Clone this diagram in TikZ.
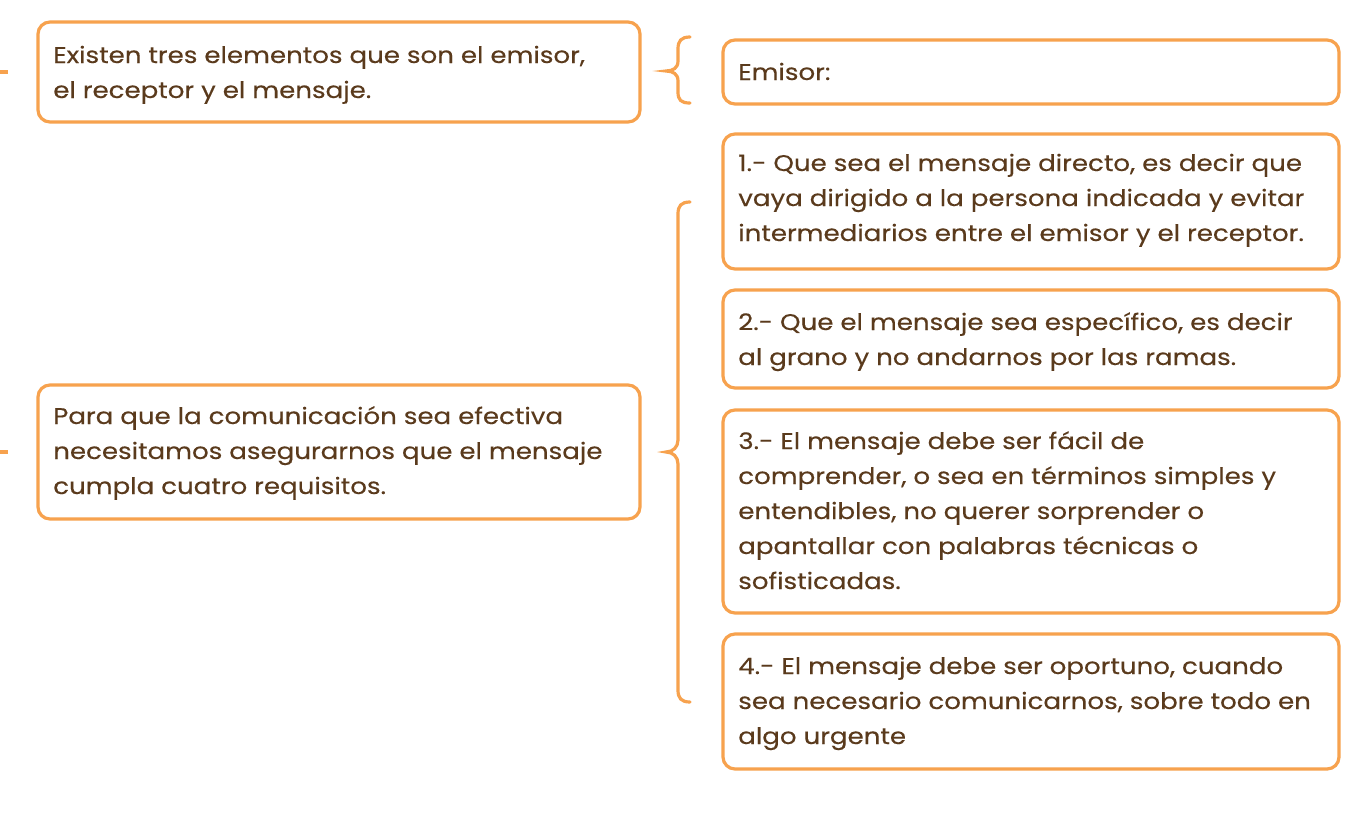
\documentclass[tikz,border=0pt]{standalone}
\usepackage{fontspec}
\setmainfont{Poppins}[FakeStretch=1.15,FakeBold=0.25]
\usetikzlibrary{fit}
\definecolor{boxorange}{HTML}{F7A24E}
\definecolor{txtbrown}{HTML}{5A3A1C}
\newcommand{\mylines}[1]{\begin{tabular}[t]{@{}l@{}}#1\end{tabular}}
\renewcommand{\arraystretch}{1}
\tikzset{
  box/.style={draw=boxorange, line width=2.4pt, rounded corners=9pt, inner sep=0pt, fill=white},
  txt/.style={anchor=base west, inner sep=0pt, text=txtbrown,
    font=\fontsize{17pt}{26.25pt}\selectfont},
  link/.style={draw=boxorange, line width=2.4pt, line cap=round},
}
\begin{document}
\begin{tikzpicture}[x=0.75pt,y=-0.75pt]
\useasboundingbox (0,0) rectangle (1363,833);
\fill[white] (0,0) rectangle (1363,833);
% left boxes
\node[box, fit={(38,22) (640,122)}] (a) {};
\node[box, fit={(38,385) (640,519)}] (b) {};
% right boxes
\node[box, fit={(723,40) (1339,104)}] (em) {};
\node[box, fit={(723,134) (1339,269)}] (r1) {};
\node[box, fit={(723,290) (1339,388)}] (r2) {};
\node[box, fit={(723,410) (1339,613)}] (r3) {};
\node[box, fit={(723,634) (1339,769)}] (r4) {};
% texts
\node[txt] (ta) at (53,63) {\mylines{Existen tres elementos que son el emisor,\\el receptor y el mensaje.}};
\node[txt] (tb) at (53,424) {\mylines{Para que la comunicación sea efectiva\\necesitamos asegurarnos que el mensaje\\cumpla cuatro requisitos.}};
\node[txt] (tem) at (738,80) {\mylines{Emisor:}};
\node[txt] (t1) at (738,171) {\mylines{1.- Que sea el mensaje directo, es decir que\\vaya dirigido a la persona indicada y evitar\\intermediarios entre el emisor y el receptor.}};
\node[txt] (t2) at (738,330) {\mylines{2.- Que el mensaje sea específico, es decir\\al grano y no andarnos por las ramas.}};
\node[txt] (t3) at (738,449) {\mylines{3.- El mensaje debe ser fácil de\\comprender, o sea en términos simples y\\entendibles, no querer sorprender o\\apantallar con palabras técnicas o\\sofisticadas.}};
\node[txt] (t4) at (738,674) {\mylines{4.- El mensaje debe ser oportuno, cuando\\sea necesario comunicarnos, sobre todo en\\algo urgente}};
% incoming stubs
\coordinate (sa) at (0,72);
\coordinate (sb) at (0,452);
\draw[link, line cap=butt] (sa) -- (8,72);
\draw[link, line cap=butt] (sb) -- (8,452);
% small brace
\draw[link] (690,37) .. controls (681,37) and (678,41) .. (678,49) -- (678,61)
  .. controls (678,68) and (673,71) .. (666,71)
  .. controls (673,71) and (678,74) .. (678,81) -- (678,92)
  .. controls (678,100) and (681,103) .. (690,103);
% big brace
\draw[link] (690,202) .. controls (681,202) and (678,206) .. (678,214) -- (678,440)
  .. controls (678,447) and (673,452) .. (666,452)
  .. controls (673,452) and (678,457) .. (678,464) -- (678,690)
  .. controls (678,698) and (681,702) .. (690,702);
\end{tikzpicture}
\end{document}
